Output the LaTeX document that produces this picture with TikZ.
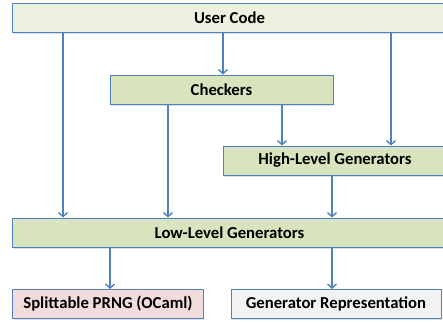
\documentclass[tikz,border=0pt]{standalone}
\usepackage{fontspec}
\setmainfont{Carlito}
\usetikzlibrary{arrows.meta,shadows}
\definecolor{bord}{HTML}{4F81BD}
\definecolor{arrc}{HTML}{4F81BD}
\definecolor{fuser}{HTML}{EBF1DE}
\definecolor{fgreen}{HTML}{D7E4BD}
\definecolor{fpink}{HTML}{F2DCDB}
\definecolor{fgray}{HTML}{F2F2F2}
\tikzset{
  box/.style={draw=bord, line width=1bp, rectangle, inner sep=0pt, minimum height=29bp,
    font=\fontsize{16.7bp}{18bp}\selectfont\bfseries,
    drop shadow={opacity=0.25, shadow xshift=1.2bp, shadow yshift=-1.5bp}},
  arr/.style={draw=arrc, line width=1.4bp, -{Straight Barb[length=4bp,width=9bp,line width=1.4bp]}}
}
\begin{document}
\begin{tikzpicture}[x=1bp,y=-1bp]
\useasboundingbox (0,0) rectangle (443,322);
\node[box, fill=fuser, minimum width=433bp] (uc) at (229.5,18) {User Code};
\node[box, fill=fgreen, minimum width=223bp] (ch) at (221.5,89.5) {Checkers};
\node[box, fill=fgreen, minimum width=224bp] (hl) at (335,160.5) {High-Level Generators};
\node[box, fill=fgreen, minimum width=433bp] (ll) at (229.5,232.5) {Low-Level Generators};
\node[box, fill=fpink, minimum width=190bp] (sp) at (108,304) {Splittable PRNG (OCaml)};
\node[box, fill=fgray, minimum width=210bp] (gr) at (336,304) {Generator Representation};
\draw[arr] (63,0 |- uc.south) -- (63,0 |- ll.north);
\draw[arr] (223,0 |- uc.south) -- (223,0 |- ch.north);
\draw[arr] (391,0 |- uc.south) -- (391,0 |- hl.north);
\draw[arr] (168,0 |- ch.south) -- (168,0 |- ll.north);
\draw[arr] (282,0 |- ch.south) -- (282,0 |- hl.north);
\draw[arr] (332,0 |- hl.south) -- (332,0 |- ll.north);
\draw[arr] (110,0 |- ll.south) -- (110,0 |- sp.north);
\draw[arr] (332,0 |- ll.south) -- (332,0 |- gr.north);
\end{tikzpicture}
\end{document}
